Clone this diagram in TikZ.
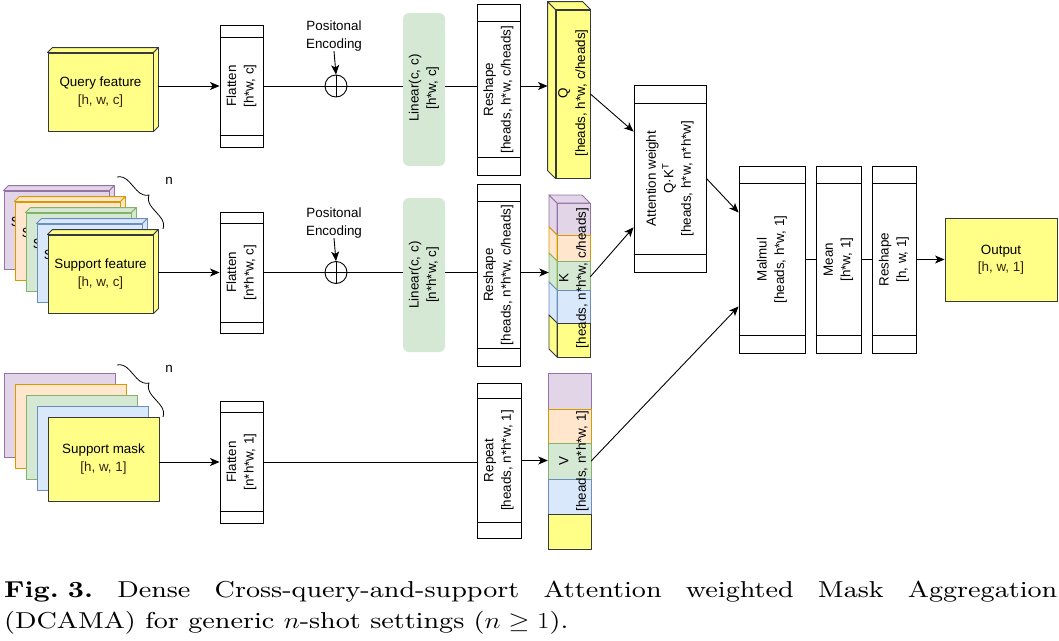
\RequirePackage{fix-cm}
\documentclass[tikz,border=0pt]{standalone}
\usepackage{graphicx}
\usepackage{fontspec}
\newfontfamily\dfont{Liberation Sans}
\newfontfamily\capfont{lmroman9-regular.otf}[BoldFont=lmroman9-bold.otf, ItalicFont=lmroman9-italic.otf]
\usetikzlibrary{arrows.meta,calc,decorations.pathreplacing}
\definecolor{yel}{HTML}{FFFF88}
\definecolor{yelS}{HTML}{36393D}
\definecolor{purF}{HTML}{E1D5E7}\definecolor{purS}{HTML}{9673A6}
\definecolor{orF}{HTML}{FFE6CC}\definecolor{orS}{HTML}{D79B00}
\definecolor{grF}{HTML}{D5E8D4}\definecolor{grS}{HTML}{82B366}
\definecolor{blF}{HTML}{DAE8FC}\definecolor{blS}{HTML}{6C8EBF}
\definecolor{txtB}{HTML}{33240F}
\newcommand\pbx[6]{%
  \node[pbox, minimum width=#4pt, minimum height=#5pt] (#1) at (#2,#3) {};
  \draw[ln] ([yshift=-#6pt]#1.north west) -- ([yshift=-#6pt]#1.north east);
  \draw[ln] ([yshift=#6pt]#1.south west) -- ([yshift=#6pt]#1.south east);}
\begin{document}
\begin{tikzpicture}[x=1pt,y=-1pt,
  txt/.style={font=\dfont\fontsize{13.4}{17.5}\selectfont, align=center, inner sep=0pt},
  pbox/.style={draw=black, line width=0.9pt, fill=white, inner sep=0pt},
  ln/.style={line width=0.9pt},
  arr/.style={ln, -{Stealth[length=9.5pt,width=8pt,inset=2.5pt]}},
  linbox/.style={fill=grF, draw=none, rounded corners=6pt, inner sep=0pt},
  layer/.style={txt, line width=0.9pt},
  brc/.style={decorate, decoration={brace, amplitude=12pt}, line width=0.8pt}]
\useasboundingbox (0,0) rectangle (1059,640);
\fill[white] (0,0) rectangle (1059,640);

% ---------- query feature cube
\node[layer, fill=yel, draw=yelS, minimum width=105pt, minimum height=78pt] (qf) at (100.5,92) {Query feature\\{\color{txtB}[h, w, c]}};
\filldraw[fill=yel, draw=yelS, ln, line join=round] (qf.north west) -- ++(5,-5) -- ($(qf.north east)+(5,-5)$) -- (qf.north east) -- cycle;
\filldraw[fill=yel, draw=yelS, ln, line join=round] (qf.north east) -- ++(5,-5) -- ($(qf.south east)+(5,-5)$) -- (qf.south east) -- cycle;

% ---------- support feature stack (back layers show only the start of their label)
\foreach \k/\f/\s in {4/purF/purS,3/orF/orS,2/grF/grS,1/blF/blS}{
  \node[layer, fill=\f, draw=\s, minimum width=105pt, minimum height=78pt] (sf\k) at ({100.5-11*\k},{274-11*\k}) {};
  \filldraw[fill=\f, draw=\s, ln, line join=round] (sf\k.north west) -- ++(5,-5) -- ($(sf\k.north east)+(5,-5)$) -- (sf\k.north east) -- cycle;
  \filldraw[fill=\f, draw=\s, ln, line join=round] (sf\k.north east) -- ++(5,-5) -- ($(sf\k.south east)+(5,-5)$) -- (sf\k.south east) -- cycle;
  \node[txt, anchor=west] (sfs\k) at ({100.5-11*\k-45.8},{274-11*\k-8.6}) {S};
}
\node[layer, fill=yel, draw=yelS, minimum width=105pt, minimum height=78pt] (sf0) at (100.5,274) {Support feature\\{\color{txtB}[h, w, c]}};
\filldraw[fill=yel, draw=yelS, ln, line join=round] (sf0.north west) -- ++(5,-5) -- ($(sf0.north east)+(5,-5)$) -- (sf0.north east) -- cycle;
\filldraw[fill=yel, draw=yelS, ln, line join=round] (sf0.north east) -- ++(5,-5) -- ($(sf0.south east)+(5,-5)$) -- (sf0.south east) -- cycle;
\draw[brc] (117,177) -- (163,229);
\node[txt] (n1) at (169,181) {n};

% ---------- support mask stack
\foreach \k/\f/\s in {4/purF/purS,3/orF/orS,2/grF/grS,1/blF/blS}{
  \node[layer, fill=\f, draw=\s, minimum width=111pt, minimum height=84pt] (sm\k) at ({103.5-11*\k},{459-11*\k}) {};
}
\node[layer, fill=yel, draw=yelS, minimum width=111pt, minimum height=84pt] (sm0) at (103.5,459) {Support mask\\{\color{txtB}[h, w, 1]}};
\draw[brc] (117,365) -- (163,417);
\node[txt] (n2) at (169,369) {n};

% ---------- flatten boxes
\pbx{fl1}{241.5}{86}{43}{122}{12.5}
\pbx{fl2}{241.5}{272.5}{43}{121}{11.5}
\pbx{fl3}{241.5}{462}{43}{122}{12}
\node[txt, rotate=90] (fl1t) at (fl1) {Flatten\\{[h*w, c]}};
\node[txt, rotate=90] (fl2t) at (fl2) {Flatten\\{[n*h*w, c]}};
\node[txt, rotate=90] (fl3t) at (fl3) {Flatten\\{[n*h*w, 1]}};

% ---------- positional encoding
\node[circle, draw=black, ln, minimum size=22pt, inner sep=0pt] (pe1) at (336,86) {};
\node[circle, draw=black, ln, minimum size=22pt, inner sep=0pt] (pe2) at (336,272.5) {};
\draw[ln] (pe1.north) -- (pe1.south) (pe1.west) -- (pe1.east);
\draw[ln] (pe2.north) -- (pe2.south) (pe2.west) -- (pe2.east);
\node[txt] (pt1) at (334,36) {Positonal\\Encoding};
\node[txt] (pt2) at (334,223) {Positonal\\Encoding};

% ---------- linear boxes
\node[linbox, minimum width=42pt, minimum height=153pt] (lin1) at (424,89.5) {};
\node[linbox, minimum width=42pt, minimum height=154pt] (lin2) at (424,275) {};
\node[txt, rotate=90] (lin1t) at (424,88) {Linear(c, c)\\{[h*w, c]}};
\node[txt, rotate=90] (lin2t) at (424,275) {Linear(c, c)\\{[n*h*w, c]}};

% ---------- reshape / repeat
\pbx{rs1}{498.5}{89.5}{43}{171}{18}
\pbx{rs2}{498.5}{275}{43}{182}{18}
\pbx{rp}{499}{460.5}{44}{155}{16}
\node[txt, rotate=90] (rs1t) at (rs1) {Reshape\\{[heads, h*w, c/heads]}};
\node[txt, rotate=90] (rs2t) at (rs2) {Reshape\\{[heads, n*h*w, c/heads]}};
\node[txt, rotate=90] (rpt) at (rp) {Repeat\\{[heads, n*h*w, 1]}};

% ---------- Q cube
\node[fill=yel, draw=yelS, ln, minimum width=34pt, minimum height=168pt, inner sep=0pt] (Q) at (573,94) {};
\filldraw[fill=yel, draw=yelS, ln, line join=round] (Q.north west) -- ++(-8,-8) -- ($(Q.south west)+(-8,-8)$) -- (Q.south west) -- cycle;
\filldraw[fill=yel, draw=yelS, ln, line join=round] (Q.north west) -- ++(-8,-8) -- ($(Q.north east)+(-8,-8)$) -- (Q.north east) -- cycle;
\node[txt, rotate=90] (Qt) at (573,93) {Q\\{[heads, h*w, c/heads]}};

% ---------- K stack
\foreach \t/\b/\f/\s in {203/235/purF/purS,235/261/orF/orS,261/290/grF/grS,290/323/blF/blS,323/357/yel/yelS}{
  \filldraw[fill=\f, draw=\s, ln, line join=round] (549,\t-8) -- (557,\t) -- (557,\b) -- (549,\b-8) -- cycle;
  \filldraw[fill=\f, draw=\s, ln] (557,\t) rectangle (590,\b);
}
\filldraw[fill=purF, draw=purS, ln, line join=round] (549,195) -- (557,203) -- (590,203) -- (582,195) -- cycle;
\node[draw=none, minimum width=33pt, minimum height=154pt, inner sep=0pt] (K) at (573.5,280) {};
\node[txt, rotate=90] (Kt) at (574,278) {K\\{[heads, n*h*w, c/heads]}};

% ---------- V stack
\foreach \t/\b/\f/\s in {373/409/purF/purS,409/443/orF/orS,443/479/grF/grS,479/514/blF/blS,514/549/yel/yelS}{
  \filldraw[fill=\f, draw=\s, ln] (548,\t) rectangle (591,\b);
}
\node[draw=none, minimum width=43pt, minimum height=176pt, inner sep=0pt] (V) at (569.5,461) {};
\node[txt, rotate=90] (Vt) at (574,461) {V\\{[heads, n*h*w, 1]}};

% ---------- attention, matmul, mean, reshape
\pbx{att}{670}{178.5}{72}{187}{18.5}
\pbx{mm}{772}{259.5}{66}{187}{18}
\pbx{mean}{838.5}{259.5}{45}{187}{18}
\pbx{rs3}{894}{259.5}{44}{187}{18}
\node[txt, rotate=90] (attt) at (att) {Attention weight\\Q·K\textsuperscript{T}\\{[heads, h*w, n*h*w]}};
\node[txt, rotate=90] (mmt) at (mm) {Malmul\\{[heads, h*w, 1]}};
\node[txt, rotate=90] (meant) at (mean) {Mean\\{[h*w, 1]}};
\node[txt, rotate=90] (rs3t) at (rs3) {Reshape\\{[h, w, 1]}};

% ---------- output
\node[txt, fill=yel, draw=yelS, ln, minimum width=112pt, minimum height=83pt] (out) at (1001,259.5) {Output\\{\color{txtB}[h, w, 1]}};

% ---------- connectors
\draw[arr] ($(fl1.west -| qf.east)+(5,0)$) -- (fl1.west);
\draw[ln] (fl1.east) -- (pe1.west);
\draw[arr] (pt1.south) -- (pe1.north);
\draw[ln] (pe1.east) -- (pe1.east -| lin1.west);
\draw[ln] (lin1.east |- pe1.east) -- (rs1.west |- pe1.east);
\draw[arr] (rs1.east |- pe1.east) -- ($(Q.west |- pe1.east)+(-8,0)$);
\draw[arr] (Q.east) -- ($(att.north west)!0.25!(att.south west)$);

\draw[arr] ($(fl2.west -| sf0.east)+(5,0)$) -- (fl2.west);
\draw[ln] (fl2.east) -- (pe2.west);
\draw[arr] (pt2.south) -- (pe2.north);
\draw[ln] (pe2.east) -- (pe2.east -| lin2.west);
\draw[ln] (lin2.east |- pe2.east) -- (rs2.west |- pe2.east);
\draw[arr] (rs2.east |- pe2.east) -- ($(K.west |- pe2.east)+(-8,0)$);
\draw[arr] ($(K.north east)!0.48!(K.south east)$) -- ($(att.north west)!0.76!(att.south west)$);

\draw[arr] (fl3.west -| sm0.east) -- (fl3.west);
\draw[ln] (fl3.east) -- (fl3.east -| rp.west);
\draw[arr] (rp.east) -- (rp.east -| V.west);
\draw[arr] (V.east) -- ($(mm.north west)!0.75!(mm.south west)$);

\draw[arr] (att.east) -- ($(mm.north west)!0.25!(mm.south west)$);
\draw[ln] (mm.east) -- (mean.west);
\draw[ln] (mean.east) -- (rs3.west);
\draw[arr] (rs3.east) -- (out.west);

% ---------- caption
\node[anchor=base west, inner sep=0pt] (cap1) at (4,597) {\capfont\fontsize{23}{27}\selectfont\scalebox{1.19}[1]{\makebox[885pt][s]{\textbf{Fig.\kern0.33em3.}\ Dense Cross-query-and-support Attention weighted Mask Aggregation}}};
\node[anchor=base west, inner sep=0pt] (cap2) at (4,628) {\capfont\fontsize{23}{27}\selectfont\scalebox{1.19}[1]{(DCAMA) for generic $n$-shot settings ($n\geq 1$).}};
\end{tikzpicture}
\end{document}
